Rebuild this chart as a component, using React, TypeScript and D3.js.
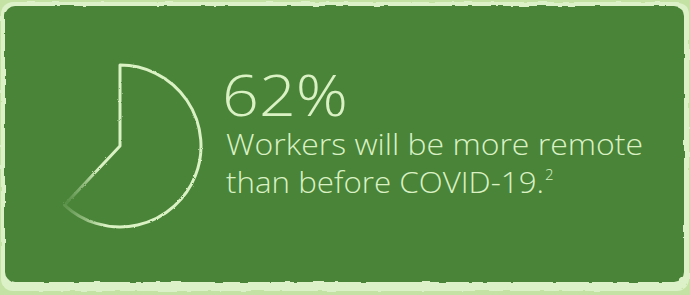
import React from 'react';
import * as d3 from 'd3';

const shareLabel = ['Remote', 'Other'];
const shareValues = [62, 38];
const headline = '62%';
const captionLines = ['Workers will be more remote', 'than before COVID-19.'];
const footnote = '2';

const W = 690;
const H = 295;
const light = '#daf1c4';
const dark = '#4a8437';

export default function App() {
  const pie = d3.pie<number>().sort(null).value(d => d)(shareValues);
  const cx = 120;
  const cy = 146;
  const r = 81;
  const arc = d3.arc<d3.PieArcDatum<number>>().innerRadius(0).outerRadius(r);
  const slice = pie[0];
  // where the slice ends, used to fade the chalk out
  const [ex, ey] = [Math.sin(slice.endAngle) * r * 0.95, -Math.cos(slice.endAngle) * r * 0.95];

  return (
    <div style={{ position: 'fixed', left: 0, top: 0, width: W, height: H, background: '#c3e2a3' }}>
      <svg width={W} height={H} style={{ display: 'block' }}>
        <defs>
          <filter id="rough" x="-5%" y="-5%" width="110%" height="110%">
            <feTurbulence type="fractalNoise" baseFrequency="0.08" numOctaves="2" seed="3" />
            <feDisplacementMap in="SourceGraphic" scale="3" />
          </filter>
          <filter id="chalk" x="-10%" y="-10%" width="120%" height="120%">
            <feTurbulence type="fractalNoise" baseFrequency="0.9" numOctaves="2" seed="5" />
            <feDisplacementMap in="SourceGraphic" scale="2.2" />
          </filter>
          <radialGradient id="fadeG" gradientUnits="userSpaceOnUse" cx={ex} cy={ey} r={45}>
            <stop offset="0" stopColor="#fff" stopOpacity={0.1} />
            <stop offset="0.6" stopColor="#fff" stopOpacity={0.55} />
            <stop offset="1" stopColor="#fff" stopOpacity={1} />
          </radialGradient>
          <mask id="fade" maskUnits="userSpaceOnUse" x={-120} y={-150} width={240} height={300}>
            <rect x={-120} y={-150} width={240} height={300} fill="url(#fadeG)" />
          </mask>
        </defs>
        <rect x={1} y={2} width={688} height={289} rx={12} fill="#dcf1c8" filter="url(#rough)" />
        <rect x={5} y={6} width={679} height={276} rx={10} fill={dark} filter="url(#rough)" />

        <g transform={`translate(${cx},${cy})`}>
          <g mask="url(#fade)">
            <path
              d={arc(slice) ?? ''}
              fill="none"
              stroke={light}
              strokeWidth={3}
              strokeLinejoin="round"
              filter="url(#chalk)"
            />
          </g>
          <title>{shareLabel[0]}</title>
        </g>

        <g fill={light} style={{ fontFamily: '"Open Sans", "Noto Sans", sans-serif' }}>
          <text x={222} y={116} fontSize={57} fontWeight={300} textLength={126} lengthAdjust="spacingAndGlyphs">
            {headline}
          </text>
          <text x={226} y={155} fontSize={28.5} fontWeight={300} textLength={417} lengthAdjust="spacingAndGlyphs">
            {captionLines[0]}
          </text>
          <text x={226} y={193} fontSize={28.5} fontWeight={300}>
            <tspan textLength={318} lengthAdjust="spacingAndGlyphs">{captionLines[1]}</tspan>
            <tspan fontSize={15} dx={1} dy={-13}>{footnote}</tspan>
          </text>
        </g>
      </svg>
    </div>
  );
}
